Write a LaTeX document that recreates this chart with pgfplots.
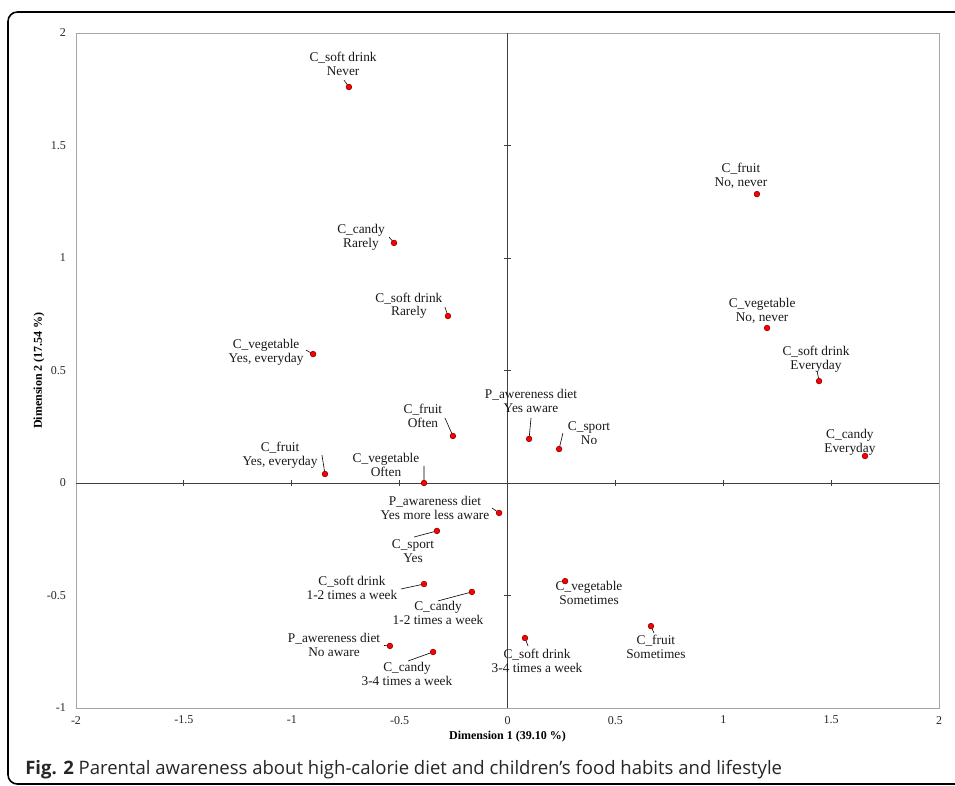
\documentclass[border=0pt]{standalone}
\usepackage{fontspec}
\setmainfont{Liberation Serif}
\newfontfamily\capfont{Open Sans}
\usepackage{pgfplots}
\pgfplotsset{compat=1.18}
\tikzset{lbl/.style={align=center, font=\fontsize{10}{10.2}\selectfont, text=black!90, inner sep=0pt}}
\begin{document}
\begin{tikzpicture}
\useasboundingbox (0,0) rectangle (716.25pt,-588.75pt);
\draw[line width=1.2pt, rounded corners=7pt] (730pt,-9pt) -- (6pt,-9pt) -- (6pt,-588pt) -- (730pt,-588pt);
\node[anchor=base west, inner sep=0pt, text=black!85, font=\capfont\fontsize{13.9}{16}\selectfont] at (18.75pt,-580.5pt)
  {{\bfseries Fig. 2} Parental awareness about high-calorie diet and children’s food habits and lifestyle};
\begin{axis}[
  at={(57pt,-531pt)}, anchor=south west,
  width=647.25pt, height=506.25pt, scale only axis,
  xmin=-2, xmax=2, ymin=-1, ymax=2,
  axis line style={color=black!35, line width=0.6pt},
  major tick length=0pt,
  xtick={-2,-1.5,-1,-0.5,0,0.5,1,1.5,2},
  xticklabels={-2,-1.5,-1,-0.5,0,0.5,1,1.5,2},
  ytick={-1,-0.5,0,0.5,1,1.5,2},
  yticklabels={-1,-0.5,0,0.5,1,1.5,2},
  ticklabel style={font=\fontsize{9}{10}\selectfont, text=black!85},
  xticklabel style={yshift=-2.5pt},
  yticklabel style={xshift=-4pt},
  xlabel={Dimension 1 (39.10 \%)},
  ylabel={Dimension 2 (17.54 \%)},
  label style={font=\bfseries\fontsize{9}{10}\selectfont},
  xlabel style={at={(axis description cs:0.5,-0.043)}, anchor=center},
  ylabel style={at={(axis description cs:-0.0429,0.5)}, anchor=center},
  clip=false,
  unbounded coords=jump,
]
% central axes
\addplot[color=black!75, line width=0.6pt, forget plot] coordinates {(-2,0)(2,0)};
\addplot[color=black!75, line width=0.6pt, forget plot] coordinates {(0,-1)(0,2)};
\addplot[only marks, mark=|, mark size=2.2pt, color=black!75, mark options={line width=0.6pt}, forget plot]
  coordinates {(-1.5,0)(-1,0)(-0.5,0)(0.5,0)(1,0)(1.5,0)};
\addplot[only marks, mark=-, mark size=2.4pt, color=black!75, mark options={line width=0.6pt}, forget plot]
  coordinates {(0,-0.5)(0,0.5)(0,1)(0,1.5)};
% leader lines
\addplot[black, line width=0.45pt, forget plot] coordinates {
 (-0.758,1.791)(-0.735,1.76)(nan,nan)
 (-0.549,1.093)(-0.526,1.067)(nan,nan)
 (-0.290,0.782)(-0.276,0.742)(nan,nan)
 (-0.934,0.591)(-0.901,0.573)(nan,nan)
 (-0.290,0.289)(-0.253,0.209)(nan,nan)
 (-0.860,0.124)(-0.846,0.04)(nan,nan)
 (-0.387,0.076)(-0.387,0)(nan,nan)
 (0.109,0.289)(0.1,0.196)(nan,nan)
 (0.257,0.222)(0.239,0.151)(nan,nan)
 (1.435,0.498)(1.444,0.453)(nan,nan)
 (-0.072,-0.111)(-0.039,-0.133)(nan,nan)
 (-0.433,-0.24)(-0.327,-0.213)(nan,nan)
 (-0.494,-0.471)(-0.387,-0.449)(nan,nan)
 (-0.322,-0.524)(-0.165,-0.484)(nan,nan)
 (-0.572,-0.722)(-0.545,-0.724)(nan,nan)
 (-0.461,-0.791)(-0.345,-0.751)(nan,nan)
 (0.095,-0.724)(0.081,-0.689)(nan,nan)
 (0.679,-0.667)(0.665,-0.636)
};
% category points
\addplot[only marks, mark=*, mark size=2.1pt, mark options={fill=red, draw=red!60!black, line width=0.5pt}] coordinates {
 (-0.735,1.76) (-0.526,1.067) (-0.276,0.742) (-0.901,0.573) (-0.253,0.209)
 (-0.846,0.04) (-0.387,0) (0.1,0.196) (0.239,0.151) (1.156,1.284)
 (1.203,0.689) (1.444,0.453) (1.657,0.12) (-0.039,-0.133) (-0.327,-0.213)
 (-0.387,-0.449) (-0.165,-0.484) (-0.545,-0.724) (-0.345,-0.751) (0.081,-0.689)
 (0.267,-0.436) (0.665,-0.636)
};
% labels
\node[lbl] at (axis cs:-0.762,1.862) {C\_soft drink\\Never};
\node[lbl] at (axis cs:-0.679,1.093) {C\_candy\\Rarely};
\node[lbl] at (axis cs:-0.457,0.787) {C\_soft drink\\Rarely};
\node[lbl] at (axis cs:-1.119,0.582) {C\_vegetable\\Yes, everyday};
\node[lbl] at (axis cs:-0.392,0.298) {C\_fruit\\Often};
\node[lbl] at (axis cs:-1.054,0.124) {C\_fruit\\Yes, everyday};
\node[lbl] at (axis cs:-0.563,0.080) {C\_vegetable\\Often};
\node[lbl] at (axis cs:0.109,0.364) {P\_awereness diet\\Yes aware};
\node[lbl] at (axis cs:0.378,0.222) {C\_sport\\No};
\node[lbl] at (axis cs:1.082,1.364) {C\_fruit\\No, never};
\node[lbl] at (axis cs:1.180,0.764) {C\_vegetable\\No, never};
\node[lbl] at (axis cs:1.430,0.551) {C\_soft drink\\Everyday};
\node[lbl] at (axis cs:1.587,0.182) {C\_candy\\Everyday};
\node[lbl] at (axis cs:-0.336,-0.111) {P\_awareness diet\\Yes more less aware};
\node[lbl] at (axis cs:-0.438,-0.302) {C\_sport\\Yes};
\node[lbl] at (axis cs:-0.721,-0.467) {C\_soft drink\\1-2 times a week};
\node[lbl] at (axis cs:-0.322,-0.578) {C\_candy\\1-2 times a week};
\node[lbl] at (axis cs:-0.804,-0.720) {P\_awereness diet\\No aware};
\node[lbl] at (axis cs:-0.466,-0.849) {C\_candy\\3-4 times a week};
\node[lbl] at (axis cs:0.137,-0.791) {C\_soft drink\\3-4 times a week};
\node[lbl] at (axis cs:0.378,-0.489) {C\_vegetable\\Sometimes};
\node[lbl] at (axis cs:0.688,-0.729) {C\_fruit\\Sometimes};
\end{axis}
\end{tikzpicture}
\end{document}
